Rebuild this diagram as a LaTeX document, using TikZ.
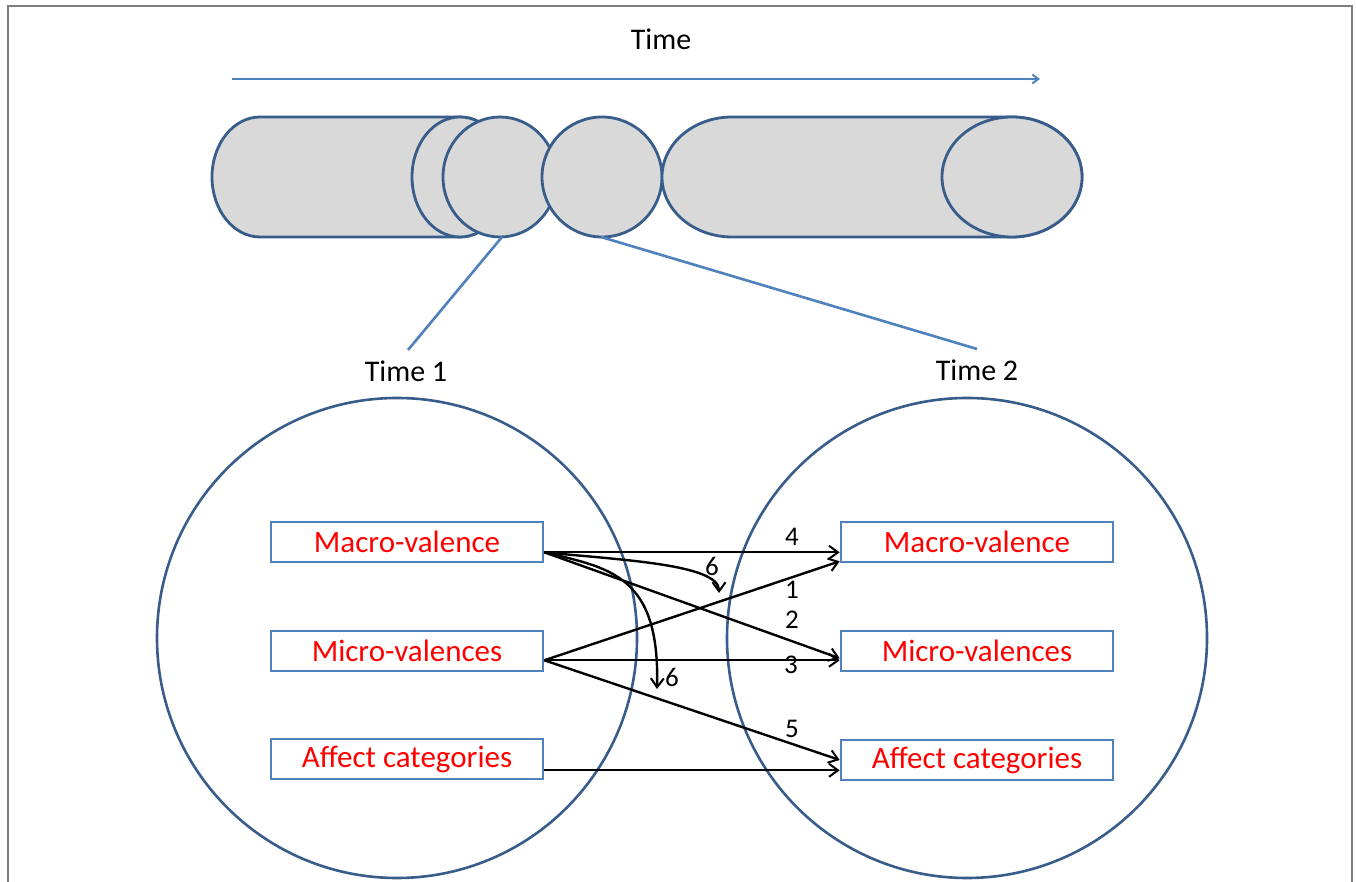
\documentclass[tikz,border=0pt]{standalone}
\usepackage{fontspec}
\setmainfont{Carlito}
\usetikzlibrary{arrows.meta,calc}
\definecolor{dkblue}{HTML}{385D8A}
\definecolor{ltblue}{HTML}{4F81BD}
\definecolor{cylfill}{HTML}{D9D9D9}
\definecolor{framegray}{HTML}{7F7F7F}
\tikzset{
  cyl/.style={fill=cylfill, draw=dkblue, line width=2.8pt},
  bigcirc/.style={draw=dkblue, line width=2.6pt},
  varbox/.style={draw=ltblue, line width=2.6pt, fill=white, minimum width=272pt, minimum height=40pt, inner sep=0pt, text=red, font=\fontsize{31}{36}\selectfont},
  timelbl/.style={font=\fontsize{30}{35}\selectfont, text=black, inner sep=0pt},
  numlbl/.style={font=\fontsize{27}{32}\selectfont, inner sep=0pt},
  link/.style={draw=black, line width=2.4pt, -{Straight Barb[length=9pt,width=13pt,line width=2pt]}},
  zoomline/.style={draw=ltblue, line width=2.6pt}
}
\begin{document}
\begin{tikzpicture}[x=1pt,y=1pt]
\useasboundingbox (0,0) rectangle (1356,882);
\fill[white] (0,0) rectangle (1356,882);
% frame
\draw[framegray, line width=2.6pt] (8,0) -- (8,876) -- (1352,876) -- (1352,0);
% time axis
\node[timelbl] (timetop) at (661,843) {Time};
\coordinate (ta) at (232,803);
\coordinate (tb) at (1040,803);
\draw[ltblue, line width=2.8pt, -{Straight Barb[length=6pt,width=9pt,line width=2pt]}] (ta) -- (tb);
% cylinder 1
\path[cyl] (260,765) arc[start angle=90, end angle=270, x radius=48pt, y radius=60pt] -- (460,645) arc[start angle=-90, end angle=90, x radius=48pt, y radius=60pt] -- cycle;
\path[cyl] (460,705) ellipse[x radius=48pt, y radius=60pt];
% circles
\path[cyl] (500,705) ellipse[x radius=57pt, y radius=60pt];
\path[cyl] (602,705) ellipse[x radius=60pt, y radius=60pt];
% cylinder 2
\path[cyl] (732,765) arc[start angle=90, end angle=270, x radius=70pt, y radius=60pt] -- (1012,645) arc[start angle=-90, end angle=90, x radius=70pt, y radius=60pt] -- cycle;
\path[cyl] (1012,705) ellipse[x radius=70pt, y radius=60pt];
% zoom lines
\coordinate (z1a) at (502,645);
\coordinate (z2a) at (601,645);
\node[timelbl] (t1) at (406,511) {Time 1};
\node[timelbl] (t2) at (977,512) {Time 2};
\coordinate (z1b) at (408,532);
\coordinate (z2b) at (977,533);
\draw[zoomline] (z1a) -- (z1b);
\draw[zoomline] (z2a) -- (z2b);
% big circles
\draw[bigcirc] (397,244) circle[radius=240pt];
\draw[bigcirc] (967,244) circle[radius=240pt];
% boxes
\node[varbox] (mL) at (407,340) {Macro-valence};
\node[varbox] (iL) at (407,231) {Micro-valences};
\node[varbox] (aL) at (407,123) {Affect categories};
\node[varbox] (mR) at (977,340) {Macro-valence};
\node[varbox] (iR) at (977,231) {Micro-valences};
\node[varbox] (aR) at (977,122) {Affect categories};
% connector end points
\coordinate (mLo) at ($(mL.south east)+(0,11)$);
\coordinate (iLo) at ($(iL.south east)+(0,12)$);
\coordinate (aLo) at ($(aL.south east)+(0,10)$);
\coordinate (mR4) at ($(mR.south west)+(0,11)$);
\coordinate (mR1) at ($(mR.south west)+(0,2)$);
\coordinate (iR2) at ($(iR.south west)+(0,14)$);
\coordinate (iR3) at ($(iR.south west)+(0,12)$);
\coordinate (aR5) at (aR.west);
\coordinate (aRa) at ($(aR.south west)+(0,11)$);
% connectors
\draw[link] (mLo) -- (mR4);
\draw[link] (iLo) -- (mR1);
\draw[link] (mLo) -- (iR2);
\draw[link] (iLo) -- (iR3);
\draw[link] (iLo) -- (aR5);
\draw[link] (aLo) -- (aRa);
\draw[link] (mLo) .. controls (620,322) and (719,318) .. (719,289);
\draw[link] (mLo) .. controls (610,314) and (660,307) .. (657,193);
% labels
\node[numlbl] (n4) at (792,345) {4};
\node[numlbl] (n1) at (792,292) {1};
\node[numlbl] (n2) at (792,262) {2};
\node[numlbl] (n3) at (791,217) {3};
\node[numlbl] (n5) at (792,153) {5};
\node[numlbl] (n6a) at (712,316) {6};
\node[numlbl] (n6b) at (672,205) {6};
\end{tikzpicture}
\end{document}
